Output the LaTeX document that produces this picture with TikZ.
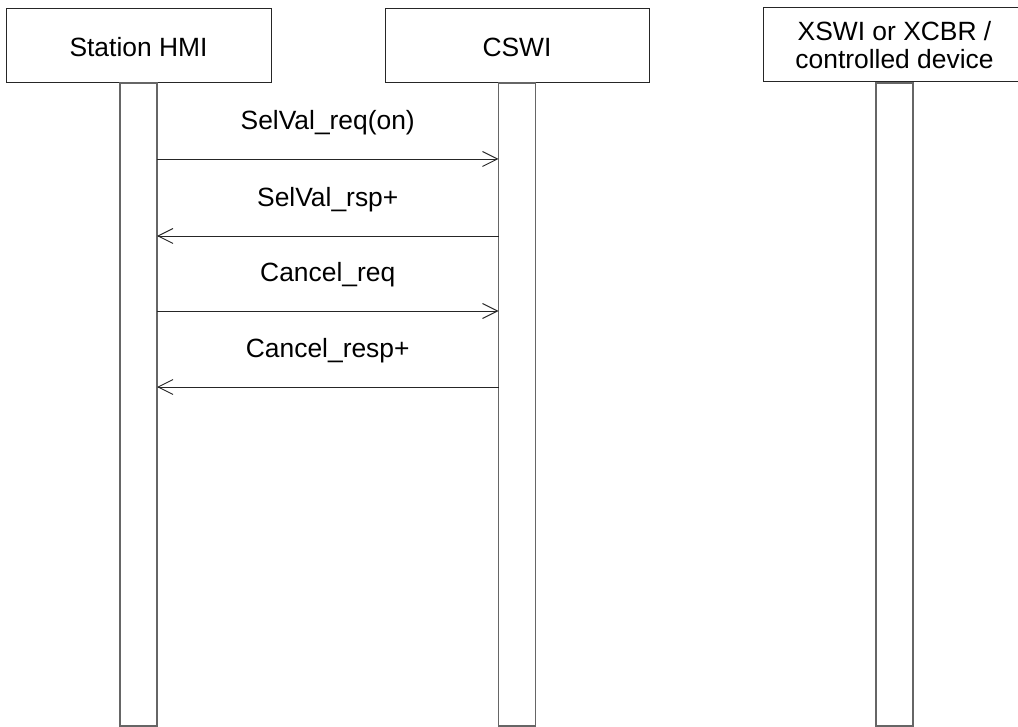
\documentclass[tikz,border=0pt]{standalone}
\usepackage{fontspec}
\setmainfont{Liberation Sans}
\usetikzlibrary{arrows.meta}

\begin{document}
\begin{tikzpicture}[x=1pt, y=-1pt,
  every node/.style={font=\fontsize{26.4}{28}\selectfont, inner sep=0pt, outer sep=0pt},
  headbox/.style={draw=black!85, line width=1pt, minimum height=74pt, text height=22pt, text depth=0pt},
  lifebar/.style={draw=black!60, line width=1.2pt, minimum width=37pt, minimum height=643pt, anchor=north},
  msg/.style={draw=black!85, line width=0.9pt, -{Straight Barb[length=15pt, width=15pt, line width=0.9pt]}},
  msglabel/.style={anchor=base, yshift=29.5pt}
]
\useasboundingbox (0,0) rectangle (1018,727);
\clip (0,0) rectangle (1018,727);

% participants
\node[headbox, minimum width=265pt] (hmi) at (138.5,46) {Station HMI};
\node[headbox, minimum width=264pt] (cswi) at (517,46) {CSWI};
\node[headbox, minimum width=263pt, text height=, align=center, yshift=1.5pt] (xswi) at (894.5,46) {XSWI or XCBR /\\controlled device};

% lifelines
\node[lifebar] (hmiBar) at (hmi.south) {};
\node[lifebar] (cswiBar) at (cswi.south) {};
\node[lifebar] (xswiBar) at (894.5,83) {};

% messages
\draw[msg] (hmiBar.east |- 0,159) -- node[msglabel] {SelVal\_req(on)} (cswiBar.west |- 0,159);
\draw[msg] (cswiBar.west |- 0,236) -- node[msglabel] {SelVal\_rsp+} (hmiBar.east |- 0,236);
\draw[msg] (hmiBar.east |- 0,311) -- node[msglabel] {Cancel\_req} (cswiBar.west |- 0,311);
\draw[msg] (cswiBar.west |- 0,387) -- node[msglabel] {Cancel\_resp+} (hmiBar.east |- 0,387);
\end{tikzpicture}
\end{document}
